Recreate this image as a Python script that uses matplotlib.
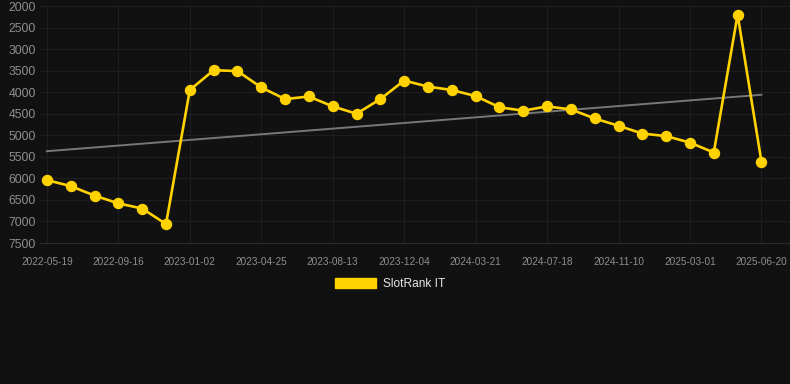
"""
SlotRank IT rank history with trend line.
"""

import numpy as np
import matplotlib.pyplot as plt
from matplotlib.patches import Patch

# rank per snapshot (lower is better, axis is inverted)
ranks = [6040, 6180, 6400, 6580, 6700, 7060, 3950, 3490, 3510, 3890,
         4160, 4100, 4330, 4500, 4160, 3730, 3870, 3950, 4090, 4350,
         4430, 4330, 4400, 4610, 4780, 4960, 5020, 5170, 5400, 2200,
         5610]
tick_labels = ["2022-05-19", "2022-09-16", "2023-01-02", "2023-04-25",
               "2023-08-13", "2023-12-04", "2024-03-21", "2024-07-18",
               "2024-11-10", "2025-03-01", "2025-06-20"]
trend_start, trend_end = 5370, 4060
y_ticks = [2000, 2500, 3000, 3500, 4000, 4500, 5000, 5500, 6000, 6500, 7000, 7500]

bg = "#111111"
gold = "#FFD200"

plt.rcParams["font.family"] = ["Liberation Sans", "DejaVu Sans"]

W, H = 790, 384
fig = plt.figure(figsize=(W / 100, H / 100), dpi=100, facecolor=bg)
ax = fig.add_axes([40 / W, (H - 243) / H, (W - 40) / W, 237 / H], facecolor=bg)

x = np.arange(len(ranks))
ax.plot([x[0], x[-1]], [trend_start, trend_end], color="#777777", linewidth=1.4, zorder=2)
ax.plot(x, ranks, color=gold, linewidth=1.9, marker="o", markersize=7.2,
        markerfacecolor=gold, markeredgecolor=gold, zorder=3)

ax.set_ylim(7500, 2000)
ax.set_xlim(-0.29, len(ranks) - 1 + 1.2)
ax.set_yticks(y_ticks)
ax.set_xticks(x[::3])
ax.set_xticklabels(tick_labels)

ax.tick_params(axis="y", colors="#8f8f8f", labelsize=8.7, length=0, pad=3)
ax.tick_params(axis="x", colors="#8f8f8f", labelsize=7.2, length=0, pad=10)
ax.grid(True, color="#1e1e1e", linewidth=0.8)
ax.set_axisbelow(True)
for s in ax.spines.values():
    s.set_visible(False)
ax.spines["bottom"].set_visible(True)
ax.spines["bottom"].set_color("#2a2a2a")
ax.spines["bottom"].set_linewidth(0.8)

handle = Patch(facecolor=gold, edgecolor=gold)
leg = fig.legend([handle], ["SlotRank IT"], loc="center",
                 bbox_to_anchor=(390 / W, 1 - 284 / H), frameon=False,
                 handlelength=3.4, handleheight=1.0, handletextpad=0.6,
                 fontsize=8.6, labelcolor="#e6e6e6")

fig.savefig("out.png", dpi=100, facecolor=bg)
